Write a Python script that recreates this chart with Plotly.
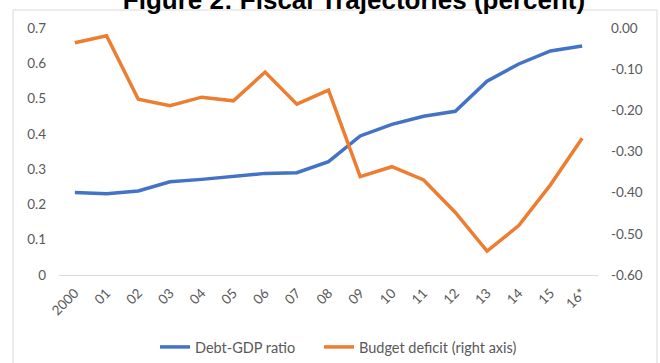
import plotly.graph_objects as go

# Fiscal trajectories, 2000-2016
years = ["2000", "01", "02", "03", "04", "05", "06", "07", "08",
         "09", "10", "11", "12", "13", "14", "15", "16*"]
debt_gdp = [0.234, 0.230, 0.238, 0.264, 0.271, 0.280, 0.288, 0.290, 0.321,
            0.394, 0.427, 0.450, 0.464, 0.549, 0.598, 0.635, 0.649]
budget_deficit = [-0.036, -0.019, -0.173, -0.189, -0.168, -0.177, -0.107, -0.185, -0.151,
                  -0.361, -0.337, -0.369, -0.448, -0.542, -0.480, -0.381, -0.268]

left_ticks = [0, 0.1, 0.2, 0.3, 0.4, 0.5, 0.6, 0.7]
left_labels = ["0", "0.1", "0.2", "0.3", "0.4", "0.5", "0.6", "0.7"]
right_ticks = [-0.6, -0.5, -0.4, -0.3, -0.2, -0.1, 0.0]
right_labels = ["-0.60", "-0.50", "-0.40", "-0.30", "-0.20", "-0.10", "0.00"]

W, H = 660, 363
L, R, T, B = 59, 62, 28, 88
pw, ph = W - L - R, H - T - B

BLUE = "#4472C4"
ORANGE = "#ED7D31"
GREY = "#595959"
FONT = "Lato"

fig = go.Figure()
fig.add_trace(go.Scatter(x=years, y=debt_gdp, name="Debt-GDP ratio", mode="lines",
                         line=dict(color=BLUE, width=3.5), yaxis="y", legend="legend"))
fig.add_trace(go.Scatter(x=years, y=budget_deficit, name="Budget deficit (right axis)",
                         mode="lines", line=dict(color=ORANGE, width=3.5), yaxis="y2",
                         legend="legend2"))

# chart-area frame
def px_x(p):
    return (p - L) / pw

def px_y(p):
    return (T + ph - p) / ph

fig.add_shape(type="rect", xref="paper", yref="paper",
              x0=px_x(13), x1=px_x(657), y0=px_y(375), y1=px_y(10),
              line=dict(color="#d9d9d9", width=1), fillcolor="rgba(0,0,0,0)", layer="below")

legend_common = dict(orientation="h", xref="container", yref="container",
                     xanchor="left", y=1 - 347 / H, yanchor="middle",
                     font=dict(size=14.5, color=GREY), bgcolor="rgba(0,0,0,0)")

fig.update_layout(
    width=W, height=H,
    margin=dict(l=L, r=R, t=T, b=B),
    paper_bgcolor="white", plot_bgcolor="white",
    font=dict(family=FONT, size=13, color=GREY),
    title=dict(text="<b>Figure 2: Fiscal Trajectories (percent)</b>",
               font=dict(family="Liberation Sans", size=26, color="black"),
               x=354 / W, xanchor="center", xref="container",
               y=1 - 9 / H, yanchor="bottom", yref="container"),
    xaxis=dict(type="category", showgrid=False, showline=True, linecolor="#d9d9d9",
               linewidth=1, tickangle=-45, ticks="", ticklabelstandoff=4,
               tickfont=dict(size=13.5, color=GREY),
               range=[-0.5, len(years) - 0.5], fixedrange=True),
    yaxis=dict(range=[0, 0.7], tickvals=left_ticks, ticktext=left_labels,
               showgrid=False, zeroline=False, showline=False, ticks="",
               ticklabelstandoff=12, tickfont=dict(size=13.5, color=GREY)),
    yaxis2=dict(range=[-0.6, 0], tickvals=right_ticks, ticktext=right_labels,
                overlaying="y", side="right", showgrid=False, zeroline=False,
                showline=False, ticks="", ticklabelstandoff=12,
                tickfont=dict(size=13.5, color=GREY)),
    legend=dict(x=(196 - 41) / W, **legend_common),
    legend2=dict(x=(360 - 41) / W, **legend_common),
    showlegend=True,
)

fig.write_html("out.html")
